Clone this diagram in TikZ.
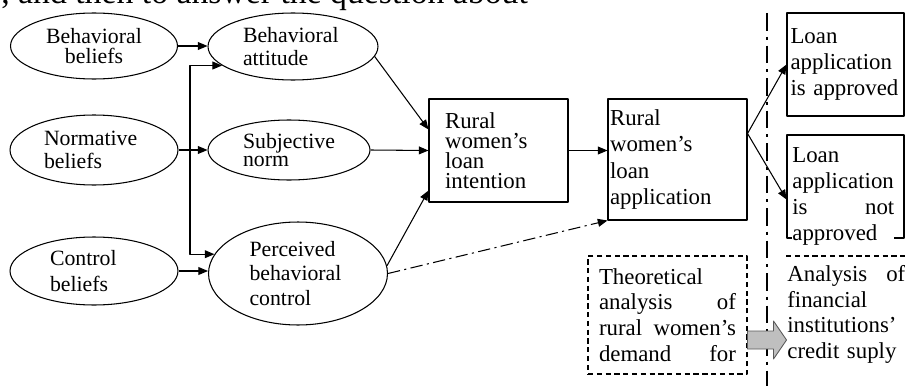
\documentclass[tikz,border=0pt]{standalone}
\usepackage{fontspec}
\setmainfont{Liberation Serif}
\usetikzlibrary{shapes.geometric,arrows.meta,calc}

\begin{document}
\begin{tikzpicture}[x=0.02cm,y=-0.02cm,>={Triangle[length=5.5pt,width=4.5pt]},line join=round,
  oval/.style={draw,ellipse,inner sep=0pt,line width=0.6pt,align=left,font=\fontsize{12.4}{#1}\selectfont},
  box/.style={draw,inner sep=0pt,line width=0.6pt,align=left,font=\fontsize{13}{#1}\selectfont},
  txt/.style={inner sep=0pt,align=left,font=\fontsize{13}{#1}\selectfont},
  dbox/.style={draw,dash pattern=on 3pt off 2pt,line width=0.6pt},
  link/.style={->,line width=0.6pt},
  dlink/.style={->,line width=0.6pt,dash pattern=on 7pt off 2.5pt on 1.2pt off 2.5pt},
  divider/.style={line width=1.2pt,dash pattern=on 10pt off 3.4pt on 1.7pt off 3.4pt},
  garrow/.style={fill=black!25,draw=black!65,line width=0.5pt}]
	\useasboundingbox (0,0) rectangle (905,385);
	\clip (0,0) rectangle (905,385);
	\node[anchor=base west,inner sep=0pt,font=\fontsize{19.2}{22}\selectfont] (top) at (1,3.5) {, and then to answer the question about};
	\node[oval=11.3pt,align=center,minimum width=3.34cm,minimum height=1.32cm] (bb) at (94,46) {Behavioral\\beliefs};
	\node[oval=13.5pt,text width=2cm,minimum width=3.36cm,minimum height=1.4cm] (nb) at (94,150) {Normative\\beliefs};
	\node[oval=14.5pt,text width=1.76cm,minimum width=3.36cm,minimum height=1.36cm] (cb) at (94,271) {Control\\beliefs};
	\node[oval=13pt,text width=2cm,minimum width=3.4cm,minimum height=1.34cm] (ba) at (293,46.5) {Behavioral\\attitude};
	\node[oval=10pt,minimum width=3.24cm,minimum height=1.2cm] (sn) at (289,150) {Subjective\\norm};
	\node[oval=14.2pt,text width=1.94cm,minimum width=3.58cm,minimum height=2.06cm] (pbc) at (298,273.5) {Perceived\\behavioral\\control};
	\node[box=11.3pt,text width=2.14cm,minimum width=2.78cm,minimum height=2.06cm] (intent) at (498.5,150.5) {Rural\\women's\\loan\\intention};
	\node[box=15.1pt,text width=2.7cm,minimum width=2.78cm,minimum height=2.42cm] (appl) at (677.5,159.5) {Rural\\women's\\loan\\application};
	\node[box=15pt,text width=2.2cm,minimum width=2.34cm,minimum height=2.06cm] (ok) at (845.5,64.5) {Loan\\application\\is approved};
	\node[box=15pt,minimum width=2.34cm,minimum height=2.06cm] (nok) at (845.5,186.5) {};
	\node[txt=14.9pt,fill=white,text width=2.04cm,anchor=north west] (nokt) at (792,147) {Loan\\application\\is\hfill not\\approved};
	\node[txt=14.6pt,dbox,text width=2.74cm,minimum width=3.18cm,minimum height=2.36cm] (theo) at (667.5,315) {Theoretical\\analysis\hfill of\\rural\hfill women's\\demand\hfill for};
	\node[txt=14.6pt,text width=2.36cm,anchor=north west] (fin) at (787,265) {Analysis\hfill of\\financial\\institutions'\\credit suply};
	\coordinate (fb) at (190,150);
	\coordinate (st) at (767,13);
	\coordinate (sb) at (767,392);
	\draw[link] (bb.east) -- (bb.east -| ba.west);
	\draw[link] (nb.east) -- (nb.east -| sn.west);
	\draw[link] (cb.east) -- (cb.east -| pbc.west);
	\draw[link,<->] (ba.195) -- (ba.195 -| fb) |- (pbc.167);
	\draw[link] (ba.-7) -- ($(intent.north west)+(0,31)$);
	\draw[link] (sn.east) -- (intent.west);
	\draw[link] (pbc.5) -- ($(intent.south west)+(0,-12)$);
	\draw[link] (intent.east) -- (intent.east -| appl.west);
	\draw[dlink] (pbc.east) -- (appl.south west);
	\draw[divider] (st) -- (sb);
	\draw[link] ($(appl.east)+(0,-26)$) -- (ok.west);
	\draw[link] ($(appl.east)+(0,-26)$) -- ($(nok.west)+(0,13)$);
	\draw[dbox] ($(fin.north west)+(-1,-9)$) -- ($(fin.north east)+(5,-9)$);
	\draw[garrow,shift={($(theo.east)+(0,25)$)}] (0,-9) -- (26,-9) -- (26,-19) -- (39,0) -- (26,19) -- (26,9) -- (0,9) -- cycle;
\end{tikzpicture}
\end{document}
